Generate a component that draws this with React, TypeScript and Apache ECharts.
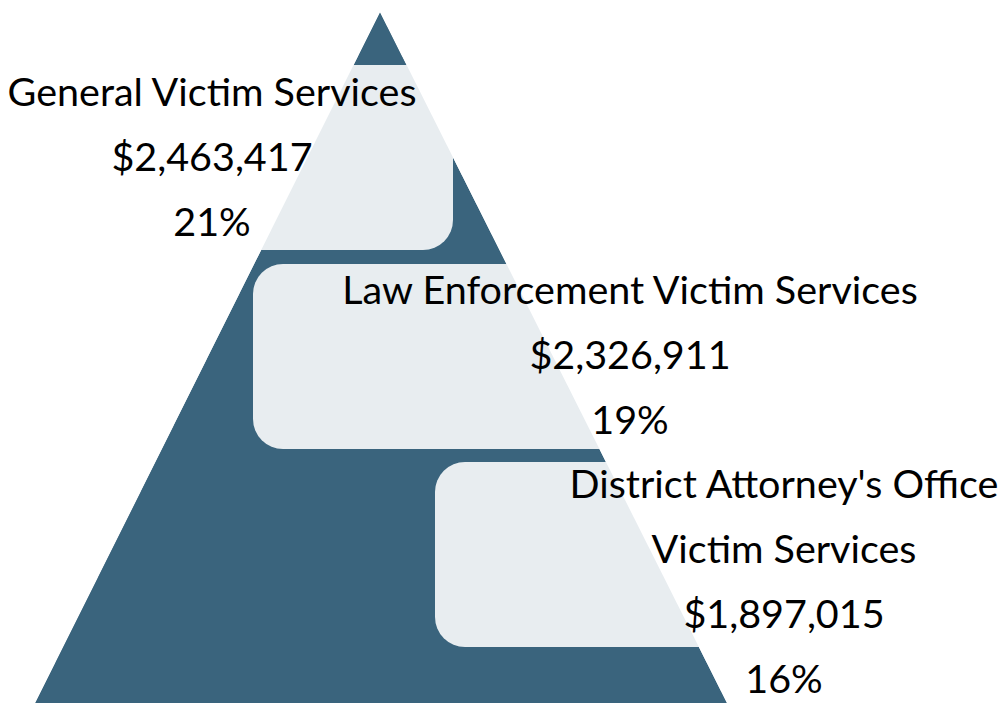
import React, { useEffect, useRef } from "react";
import * as echarts from "echarts";

// ---- data ----
const categories: string[] = [
  "General Victim Services",
  "Law Enforcement Victim Services",
  "District Attorney's Office\nVictim Services",
];
const amounts: number[] = [2463417, 2326911, 1897015];
const shares: number[] = [21, 19, 16];

// ---- layout / style ----
const W = 1006;
const H = 704;
const DARK = "#3a647d";
const LIGHT = "#e8edf0";
const FONT = "Lato";
const FONT_SIZE = 39.5;
const LINE_H = 65;

const apex = [380, 12];
const baseL = [35, 703];
const baseR = [727, 703];

// light boxes: [x, y, w, h]
const boxes: number[][] = [
  [150, 65, 303, 185],
  [253, 264, 600, 185],
  [435, 462, 500, 185],
];
// text anchors: [centerX, first baseline]
const textAnchors: number[][] = [
  [212, 105],
  [630, 303],
  [784, 497],
];

export default function App() {
  const ref = useRef<HTMLDivElement>(null);
  useEffect(() => {
    document.body.style.margin = "0";
    if (!ref.current) return;
    const chart = echarts.init(ref.current, undefined, { renderer: "svg" });
    const elements: any[] = [];
    elements.push({
      type: "polygon",
      shape: { points: [apex, baseR, baseL] },
      style: { fill: DARK },
    });
    boxes.forEach((b) => {
      elements.push({
        type: "rect",
        shape: { x: b[0], y: b[1], width: b[2], height: b[3], r: 30 },
        style: { fill: LIGHT },
      });
    });
    // white masks outside the pyramid
    elements.push({
      type: "polygon",
      shape: { points: [[-5, -5], [apex[0], -5], apex, baseL, [-5, baseL[1]]] },
      style: { fill: "#ffffff" },
    });
    elements.push({
      type: "polygon",
      shape: { points: [[apex[0], -5], [W + 5, -5], [W + 5, baseR[1]], baseR, apex] },
      style: { fill: "#ffffff" },
    });
    categories.forEach((cat, i) => {
      const lines = [
        ...cat.split("\n"),
        "$" + amounts[i].toLocaleString("en-US"),
        shares[i] + "%",
      ];
      const [cx, by] = textAnchors[i];
      lines.forEach((ln, j) => {
        elements.push({
          type: "text",
          x: cx,
          y: by + j * LINE_H - 14.5,
          style: {
            text: ln,
            fill: "#000000",
            font: `${FONT_SIZE}px ${FONT}`,
            textAlign: "center",
            textVerticalAlign: "middle",
          },
        });
      });
    });
    chart.setOption({
      animation: false,
      backgroundColor: "#ffffff",
      graphic: { elements },
    });
    return () => chart.dispose();
  }, []);
  return <div ref={ref} style={{ width: W, height: H }} />;
}
